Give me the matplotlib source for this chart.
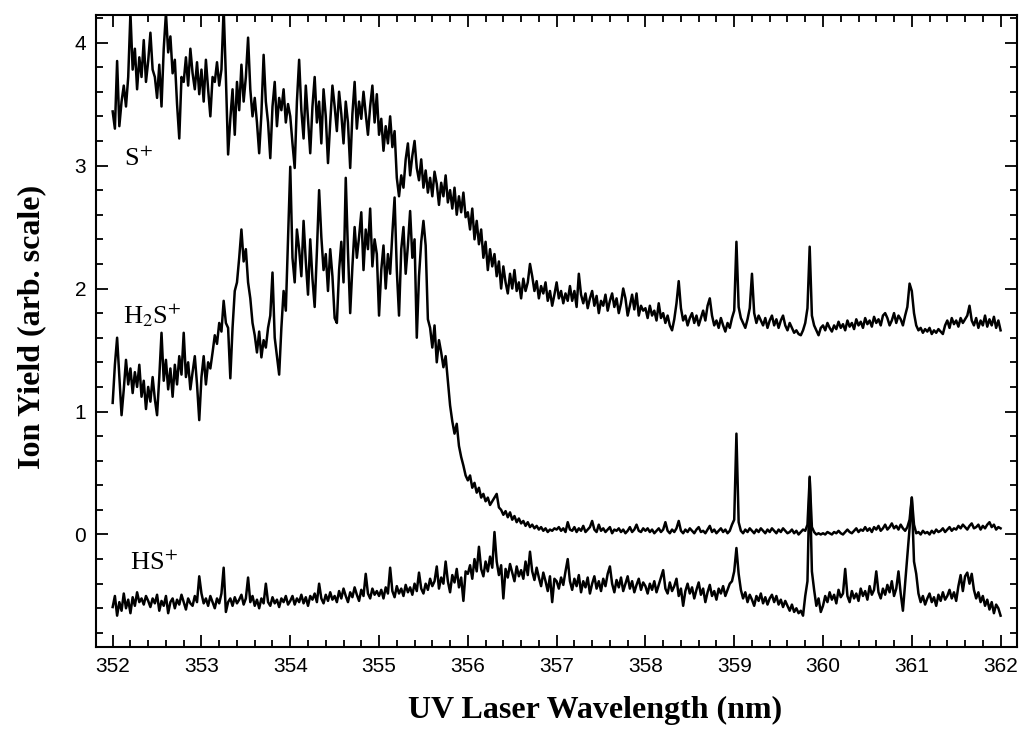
# Espectros de ionizacao - H2S
import numpy as np
import matplotlib.pyplot as plt
from matplotlib.ticker import MultipleLocator

plt.rcParams["mathtext.fontset"] = "stix"

# comprimento de onda (nm), passo de 0.025 nm
wl = np.linspace(352, 362, 401)

# S+ (x100) - uma linha por nm
s_plus = [
    344, 330, 385, 332, 352, 365, 348, 372, 424, 378, 395, 362, 388, 372, 402, 368, 385, 408, 378, 372,
    355, 382, 348, 395, 424, 392, 405, 375, 386, 350, 322, 372, 368, 388, 365, 395, 375, 362, 384, 358,
    378, 352, 386, 362, 340, 372, 368, 384, 365, 378, 428, 372, 309, 338, 362, 325, 368, 345, 382, 352,
    372, 404, 362, 340, 355, 335, 310, 342, 390, 352, 335, 306, 348, 368, 332, 355, 345, 362, 335, 350,
    340, 318, 298, 352, 386, 345, 322, 365, 338, 310, 348, 372, 335, 352, 318, 362, 340, 302, 335, 365,
    348, 328, 360, 342, 318, 352, 335, 298, 342, 368, 330, 352, 338, 360, 342, 325, 348, 365, 335, 358,
    325, 338, 312, 332, 318, 340, 315, 328, 290, 275, 292, 282, 305, 318, 292, 308, 320, 298, 288, 305,
    282, 296, 278, 290, 275, 295, 285, 268, 286, 275, 292, 270, 280, 265, 282, 260, 275, 262, 278, 258,
    262, 248, 265, 240, 255, 236, 248, 225, 238, 215, 232, 218, 228, 210, 222, 200, 218, 205, 196, 212,
    200, 215, 198, 205, 192, 208, 198, 205, 220, 210, 198, 206, 192, 202, 196, 205, 190, 198, 186, 195,
    205, 192, 198, 188, 196, 190, 202, 190, 198, 185, 212, 195, 188, 196, 184, 192, 198, 186, 194, 180,
    190, 186, 195, 182, 190, 196, 185, 192, 180, 188, 200, 192, 178, 186, 195, 183, 196, 178, 186, 182,
    184, 176, 186, 178, 182, 174, 188, 176, 180, 172, 178, 170, 166, 175, 188, 206, 184, 174, 178, 170,
    176, 180, 172, 178, 170, 176, 182, 174, 186, 192, 178, 170, 174, 168, 176, 170, 165, 172, 168, 176,
    182, 238, 185, 176, 172, 168, 175, 184, 212, 180, 172, 178, 174, 170, 176, 168, 174, 178, 170, 175,
    168, 174, 178, 170, 166, 172, 168, 164, 166, 163, 162, 166, 172, 184, 234, 178, 170, 166, 162, 168,
    170, 166, 172, 168, 165, 170, 167, 173, 168, 171, 166, 174, 169, 172, 167, 175, 170, 173, 168, 176,
    171, 174, 169, 177, 172, 175, 170, 178, 180, 176, 170, 174, 180, 172, 178, 175, 170, 178, 185, 204,
    198, 180, 170, 166, 168, 164, 167, 165, 168, 163, 166, 164, 167, 165, 163, 170, 174, 168, 176, 171,
    174, 169, 176, 172, 175, 178, 186, 174, 170, 176, 168, 174, 170, 178, 169, 175, 170, 177, 168, 174,
    166,
]

# H2S+ (x100)
h2s_plus = [
    107, 138, 160, 128, 97, 118, 142, 122, 135, 115, 132, 120, 138, 112, 125, 102, 120, 108, 128, 110,
    97, 128, 164, 125, 142, 118, 135, 112, 138, 122, 145, 130, 164, 128, 140, 118, 132, 145, 122, 93,
    128, 145, 122, 140, 135, 148, 162, 155, 172, 165, 190, 172, 168, 127, 168, 198, 205, 225, 248, 222,
    232, 205, 192, 172, 162, 148, 165, 144, 158, 152, 168, 178, 213, 160, 145, 130, 168, 198, 182, 240,
    299, 225, 205, 248, 232, 210, 255, 222, 195, 240, 208, 185, 230, 280, 242, 215, 228, 198, 232, 210,
    176, 172, 215, 238, 205, 290, 230, 180, 218, 250, 225, 242, 262, 215, 248, 232, 265, 218, 240, 228,
    178, 215, 235, 200, 228, 212, 245, 274, 215, 178, 232, 250, 212, 235, 263, 225, 240, 160, 210, 238,
    255, 235, 175, 168, 152, 170, 140, 158, 148, 136, 145, 125, 105, 92, 82, 90, 72, 63, 56, 48,
    44, 48, 38, 42, 34, 38, 30, 33, 27, 30, 24, 27, 30, 33, 22, 20, 16, 19, 14, 18,
    12, 15, 10, 13, 9, 11, 7, 10, 6, 8, 5, 7, 4, 6, 3, 5, 2, 4, 3, 5,
    4, 6, 3, 5, 2, 10, 4, 3, 6, 2, 5, 3, 7, 2, 4, 6, 11, 4, 2, 8,
    3, 5, 2, 4, 6, 1, 4, 3, 5, 2, 4, 1, 3, 6, 2, 4, 8, 3, 2, 5,
    3, 5, 2, 4, 1, 3, 5, 2, 4, 10, 3, 1, 4, 2, 5, 11, 3, 1, 4, 2,
    5, 3, 1, 4, 6, 2, 3, 1, 4, 7, 2, 4, 1, 3, 5, 2, 4, 1, 3, 8,
    12, 82, 10, 3, 1, 4, 2, 5, 3, 1, 4, 2, 5, 3, 1, 4, 2, 5, 3, 1,
    4, 2, 5, 3, 1, 2, 4, 1, 3, 0, 2, 4, 3, 8, 46, 6, 2, 0, 1, 0,
    1, 0, 2, 1, 0, 2, 1, 3, 1, 0, 2, 4, 2, 1, 3, 5, 2, 4, 3, 6,
    3, 5, 2, 6, 4, 7, 3, 5, 8, 4, 6, 9, 5, 7, 4, 8, 5, 3, 6, 12,
    30, 8, 1, 2, 0, 3, 1, 2, 0, 3, 1, 4, 2, 3, 5, 2, 4, 6, 3, 5,
    4, 7, 5, 8, 6, 4, 7, 9, 5, 6, 8, 4, 7, 5, 8, 10, 6, 8, 4, 6,
    5,
]

# HS+ (x100)
hs_plus = [
    -59, -50, -66, -55, -62, -48, -60, -53, -64, -51, -58, -47, -55, -52, -57, -50, -54, -59, -52, -56,
    -49, -62, -54, -58, -50, -64, -55, -52, -60, -53, -57, -49, -55, -61, -52, -56, -58, -50, -55, -34,
    -48, -56, -52, -58, -50, -55, -60, -52, -56, -48, -27, -63, -55, -52, -58, -51, -56, -53, -49, -57,
    -52, -35, -55, -50, -58, -53, -60, -52, -56, -40, -55, -58, -51, -56, -53, -59, -52, -55, -50, -57,
    -54, -50, -57, -52, -55, -49, -56, -51, -58, -50, -53, -48, -55, -40, -52, -56, -49, -54, -47, -53,
    -50, -55, -46, -52, -44, -50, -55, -47, -51, -43, -49, -54, -45, -50, -32, -48, -52, -44, -49, -46,
    -50, -45, -52, -43, -48, -27, -46, -51, -42, -48, -44, -50, -41, -47, -43, -49, -40, -46, -31, -44,
    -48, -40, -45, -36, -42, -38, -26, -44, -35, -40, -22, -38, -47, -33, -39, -28, -43, -35, -54, -30,
    -32, -25, -36, -20, -30, -10, -28, -34, -22, -30, -18, -27, 2, -22, -33, -25, -52, -28, -35, -24,
    -31, -38, -26, -34, -29, -36, -22, -33, -14, -30, -37, -27, -35, -42, -31, -38, -46, -34, -55, -36,
    -38, -44, -35, -41, -30, -20, -38, -45, -36, -42, -33, -47, -38, -43, -35, -48, -40, -34, -44, -38,
    -46, -36, -42, -32, -26, -40, -47, -37, -43, -35, -46, -40, -34, -44, -38, -47, -41, -36, -45, -39,
    -42, -48, -40, -45, -38, -47, -41, -35, -29, -44, -48, -39, -46, -42, -36, -50, -44, -58, -46, -40,
    -48, -43, -52, -45, -39, -49, -44, -55, -47, -41, -50, -46, -53, -44, -48, -42, -50, -45, -40, -38,
    -30, -11, -32, -45, -52, -47, -55, -49, -53, -58, -50, -54, -48, -56, -51, -57, -52, -49, -55, -50,
    -57, -53, -59, -54, -58, -62, -57, -63, -60, -64, -62, -66, -50, -38, 47, -30, -45, -58, -52, -63,
    -58, -50, -55, -47, -53, -49, -56, -45, -51, -48, -28, -50, -55, -46, -52, -48, -54, -44, -50, -46,
    -53, -42, -49, -45, -30, -47, -52, -44, -49, -41, -47, -38, -50, -44, -30, -48, -62, -40, -18, 5,
    30, -22, -32, -48, -55, -50, -57, -52, -48, -55, -51, -58, -49, -54, -47, -53, -50, -45, -52, -47,
    -54, -42, -33, -46, -34, -31, -40, -32, -45, -52, -47, -55, -50, -58, -53, -61, -55, -64, -57, -60,
    -66,
]

series = {"S$^{+}$": s_plus, "H$_2$S$^{+}$": h2s_plus, "HS$^{+}$": hs_plus}
# posicao dos rotulos (x, y em unidades de dados)
rotulos = {"S$^{+}$": (352.13, 3.0), "H$_2$S$^{+}$": (352.12, 1.72), "HS$^{+}$": (352.19, -0.29)}

fig = plt.figure(figsize=(10.2, 7.32), dpi=100)
ax = fig.add_axes([0.0941, 0.1161, 0.9034, 0.8634])

for nome, vals in series.items():
    ax.plot(wl, np.array(vals) / 100, color="black", lw=1.8)
    ax.text(*rotulos[nome], nome, fontsize=19, family="Liberation Serif",
            ha="left", va="baseline")

ax.set_xlim(351.812, 362.19)
ax.set_ylim(-0.915, 4.224)

ax.xaxis.set_major_locator(MultipleLocator(1))
ax.xaxis.set_minor_locator(MultipleLocator(0.2))
ax.yaxis.set_major_locator(MultipleLocator(1))
ax.yaxis.set_minor_locator(MultipleLocator(0.2))
ax.tick_params(which="both", direction="in", top=True, right=True, width=1.3)
ax.tick_params(which="major", length=8.5, labelsize=15, pad=7)
ax.tick_params(which="minor", length=5)
for lab in ax.get_xticklabels() + ax.get_yticklabels():
    lab.set_family("Liberation Sans")
for sp in ax.spines.values():
    sp.set_linewidth(1.5)

ax.set_xlabel("UV Laser Wavelength (nm)", fontsize=23, family="Liberation Serif",
              fontweight="bold")
ax.set_ylabel("Ion Yield (arb. scale)", fontsize=23, family="Liberation Serif",
              fontweight="bold")
ax.xaxis.set_label_coords(0.542, -0.077)
ax.yaxis.set_label_coords(-0.054, 0.506)

plt.savefig("out.png", dpi=100)
